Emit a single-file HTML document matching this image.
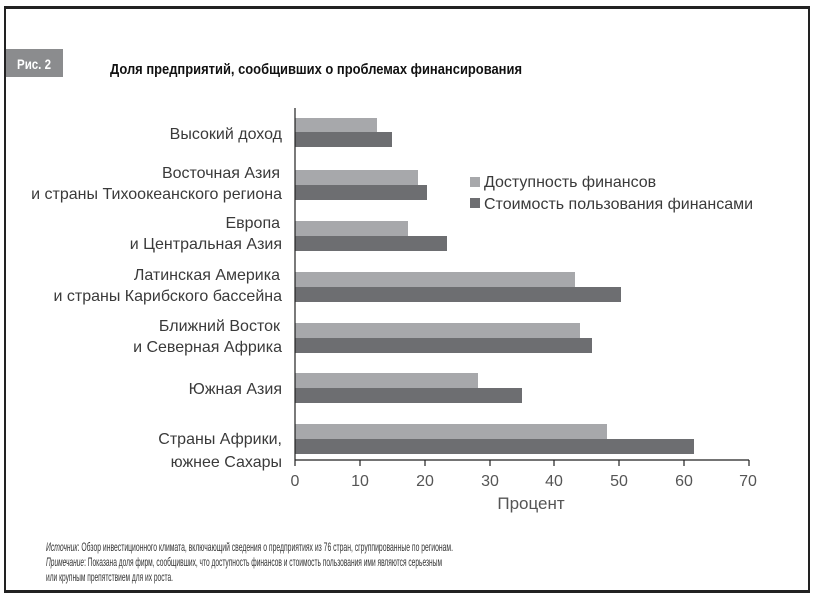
<!DOCTYPE html>
<html><head><meta charset="utf-8"><style>
html,body{margin:0;padding:0;background:#fff;}
svg{display:block;}
text{font-family:"Liberation Sans",sans-serif;}
.n{font-family:"Liberation Sans Narrow","Liberation Sans",sans-serif;}
.lab{font-size:16px;fill:#3a3a3a;text-anchor:end;}
.tk{font-size:16px;fill:#555;text-anchor:middle;}
.fn{font-size:12px;fill:#333;}
</style></head><body>
<svg width="813" height="600" viewBox="0 0 813 600">
<rect x="0" y="0" width="813" height="600" fill="#fff"/>
<rect x="5" y="8" width="804" height="583" fill="none" stroke="#222" stroke-width="2"/>
<rect x="4" y="6" width="806" height="3" fill="#222"/>
<rect x="4" y="590" width="806" height="3" fill="#222"/>
<rect x="6" y="49" width="57" height="28" fill="#8b8c8e"/>
<text x="17" y="69" class="n" font-size="14" font-weight="bold" fill="#fff" textLength="34" lengthAdjust="spacingAndGlyphs">Рис. 2</text>
<text x="110" y="74" class="n" font-size="15" font-weight="bold" fill="#111" textLength="412" lengthAdjust="spacingAndGlyphs">Доля предприятий, сообщивших о проблемах финансирования</text>
<g fill="#a7a8ab">
<rect x="295" y="118" width="82" height="14"/>
<rect x="295" y="170" width="123" height="15"/>
<rect x="295" y="221" width="113" height="15"/>
<rect x="295" y="272" width="280" height="15"/>
<rect x="295" y="323" width="285" height="15"/>
<rect x="295" y="373" width="183" height="15"/>
<rect x="295" y="424" width="312" height="15"/>
</g>
<g fill="#6d6e71">
<rect x="295" y="132" width="97" height="15"/>
<rect x="295" y="185" width="132" height="15"/>
<rect x="295" y="236" width="152" height="15"/>
<rect x="295" y="287" width="326" height="15"/>
<rect x="295" y="338" width="297" height="15"/>
<rect x="295" y="388" width="227" height="15"/>
<rect x="295" y="439" width="399" height="15"/>
</g>
<line x1="295" y1="108" x2="295" y2="466" stroke="#222" stroke-width="1.2"/>
<line x1="295" y1="460" x2="749" y2="460" stroke="#222" stroke-width="1.2"/>
<g stroke="#222" stroke-width="1.2">
<line x1="360" y1="460" x2="360" y2="466"/><line x1="425" y1="460" x2="425" y2="466"/>
<line x1="490" y1="460" x2="490" y2="466"/><line x1="554" y1="460" x2="554" y2="466"/>
<line x1="619" y1="460" x2="619" y2="466"/><line x1="684" y1="460" x2="684" y2="466"/>
<line x1="749" y1="460" x2="749" y2="466"/>
</g>
<text class="tk" x="295" y="486">0</text><text class="tk" x="360" y="486">10</text>
<text class="tk" x="425" y="486">20</text><text class="tk" x="490" y="486">30</text>
<text class="tk" x="554" y="486">40</text><text class="tk" x="619" y="486">50</text>
<text class="tk" x="684" y="486">60</text><text class="tk" x="748" y="486">70</text>
<text x="531" y="509" font-size="17" fill="#555" text-anchor="middle">Процент</text>
<text class="lab" x="282" y="139">Высокий доход</text>
<text class="lab" x="280" y="178">Восточная Азия</text>
<text class="lab" x="282" y="199">и страны Тихоокеанского региона</text>
<text class="lab" x="280" y="228">Европа</text>
<text class="lab" x="282" y="249">и Центральная Азия</text>
<text class="lab" x="280" y="280">Латинская Америка</text>
<text class="lab" x="282" y="301">и страны Карибского бассейна</text>
<text class="lab" x="280" y="331">Ближний Восток</text>
<text class="lab" x="282" y="352">и Северная Африка</text>
<text class="lab" x="282" y="394">Южная Азия</text>
<text class="lab" x="282" y="444">Страны Африки,</text>
<text class="lab" x="282" y="467">южнее Сахары</text>
<rect x="470" y="177" width="10" height="10" fill="#a7a8ab"/>
<rect x="470" y="198" width="10" height="10" fill="#6d6e71"/>
<text x="484" y="187" font-size="16" fill="#3a3a3a">Доступность финансов</text>
<text x="484" y="209" font-size="16" fill="#3a3a3a">Стоимость пользования финансами</text>
<text class="fn n" x="46" y="551" textLength="407" lengthAdjust="spacingAndGlyphs"><tspan font-style="italic">Источник</tspan>: Обзор инвестиционного климата, включающий сведения о предприятиях из 76 стран, сгруппированные по регионам.</text>
<text class="fn n" x="46" y="566" textLength="396" lengthAdjust="spacingAndGlyphs"><tspan font-style="italic">Примечание</tspan>: Показана доля фирм, сообщивших, что доступность финансов и стоимость пользования ими являются серьезным</text>
<text class="fn n" x="46" y="581" textLength="127" lengthAdjust="spacingAndGlyphs">или крупным препятствием для их роста.</text>
</svg>
</body></html>
